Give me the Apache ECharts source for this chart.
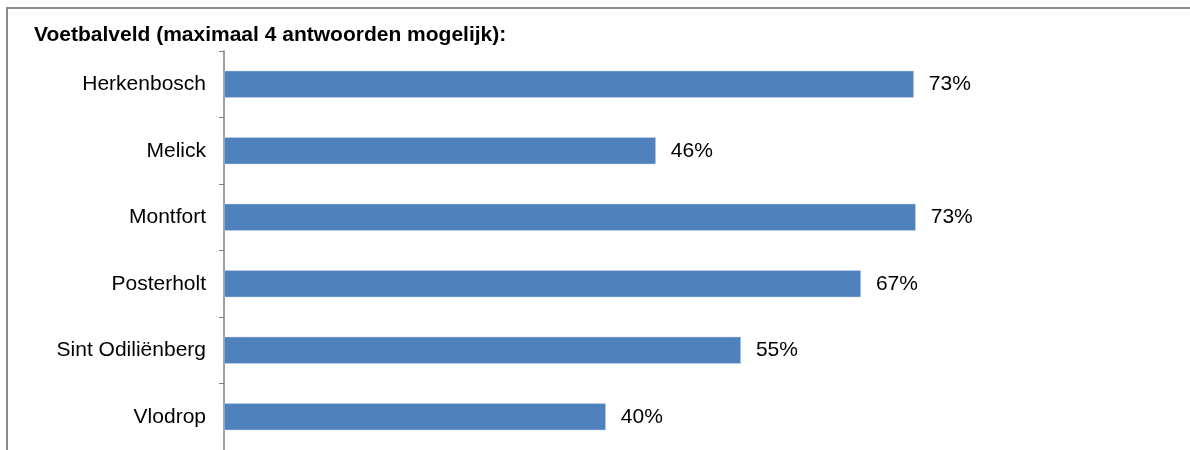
<!DOCTYPE html>
<html>
<head>
<meta charset="utf-8">
<script src="https://cdn.jsdelivr.net/npm/echarts@6/dist/echarts.min.js"></script>
<style>
    html, body { margin: 0; padding: 0; background: #fff; }
    #chart { width: 1190px; height: 450px; }
</style>
</head>
<body>
<div id="chart"></div>
<script>
const categories = ['Herkenbosch', 'Melick', 'Montfort', 'Posterholt', 'Sint Odiliënberg', 'Vlodrop'];
const percentages = [73.0, 45.7, 73.2, 67.4, 54.7, 40.4];

const chart = echarts.init(document.getElementById('chart'));

const option = {
    animation: false,
    title: {
        text: 'Voetbalveld (maximaal 4 antwoorden mogelijk):',
        left: 29,
        top: 20,
        textStyle: {
            fontFamily: 'Liberation Sans, Arial, sans-serif',
            fontSize: 21,
            fontWeight: 'bold',
            color: '#000',
        },
    },
    graphic: [
        {
            type: 'rect',
            shape: { x: 7, y: 8, width: 1220, height: 500 },
            style: { fill: 'none', stroke: '#8c8c8c', lineWidth: 2 },
            silent: true,
        },
    ],
    grid: {
        left: 224,
        right: 21,
        top: 51,
        bottom: 0,
    },
    xAxis: {
        type: 'value',
        min: 0,
        max: 100,
        show: false,
    },
    yAxis: {
        type: 'category',
        data: categories,
        inverse: true,
        axisLine: { lineStyle: { color: '#808080', width: 1.5 } },
        axisTick: { show: true, length: 5, lineStyle: { color: '#808080' } },
        axisLabel: {
            margin: 18,
            fontFamily: 'Liberation Sans, Arial, sans-serif',
            fontSize: 21,
            color: '#000',
        },
    },
    series: [
        {
            type: 'bar',
            data: percentages,
            barWidth: 27,
            itemStyle: {
                color: '#4F81BD',
                borderColor: '#c9d6ea',
                borderWidth: 0.5,
            },
            label: {
                show: true,
                position: 'right',
                distance: 15,
                fontFamily: 'Liberation Sans, Arial, sans-serif',
                fontSize: 21,
                color: '#000',
                formatter: (p) => Math.round(p.value) + '%',
            },
        },
    ],
};

chart.setOption(option);
</script>
</body>
</html>
